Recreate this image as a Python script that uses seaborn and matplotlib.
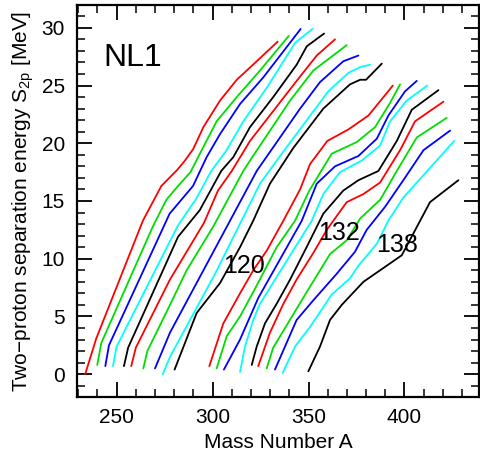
import pandas as pd
import matplotlib.pyplot as plt
import seaborn as sns
from matplotlib.ticker import MultipleLocator

sns.set_style('ticks')
plt.rcParams['font.family'] = ['Liberation Sans', 'DejaVu Sans']
plt.rcParams['mathtext.fontset'] = 'custom'
plt.rcParams['mathtext.rm'] = 'Liberation Sans'
plt.rcParams['mathtext.it'] = 'Liberation Sans:italic'
for key in ['text.color', 'axes.labelcolor', 'xtick.color', 'ytick.color', 'axes.edgecolor']:
    plt.rcParams[key] = 'black'

# ---- isotone chains (A, S2p in MeV) ----
# first block
A_01 = [233.6, 239.4, 263.7, 273.3, 281.6, 285.6, 289.9, 295.2, 303.9, 312.6, 323.0, 333.9]
S_01 = [0.0, 3.1, 13.3, 16.3, 17.7, 18.5, 19.5, 21.4, 23.7, 25.5, 27.1, 28.8]
A_02 = [239.9, 242.0, 268.9, 275.9, 282.0, 288.5, 293.4, 302.1, 312.6, 324.7, 339.7]
S_02 = [0.8, 2.7, 12.8, 15.1, 16.3, 17.5, 19.1, 21.9, 24.0, 26.3, 29.3]
A_03 = [244.1, 246.0, 277.6, 289.8, 296.9, 303.9, 314.3, 326.4, 345.9]
S_03 = [0.7, 2.5, 13.9, 16.3, 18.8, 20.8, 23.4, 25.7, 29.9]
A_04 = [248.1, 250.0, 282.0, 291.5, 299.3, 307.3, 316.0, 328.2, 343.0, 352.0]
S_04 = [0.7, 2.4, 12.9, 15.2, 17.6, 19.4, 21.9, 24.8, 28.7, 29.9]
A_05 = [253.8, 256.0, 282.0, 293.3, 304.5, 310.8, 319.5, 331.6, 343.8, 349.1, 358.1]
S_05 = [0.7, 2.3, 11.9, 14.2, 17.6, 18.8, 21.4, 24.0, 26.8, 28.4, 29.5]
A_06 = [257.6, 260.0, 277.8, 295.5, 302.8, 310.0, 319.5, 343.8, 354.3, 363.8]
S_06 = [0.7, 2.3, 8.2, 13.1, 15.9, 17.6, 20.2, 25.4, 27.6, 29.0]
A_07 = [263.9, 266.0, 277.8, 286.5, 300.4, 316.0, 319.5, 340.4, 352.5, 369.9]
S_07 = [0.5, 2.0, 6.0, 9.0, 12.8, 17.6, 18.5, 23.7, 26.3, 28.5]
A_08 = [270.0, 277.8, 300.4, 323.0, 345.6, 356.0, 368.1, 376.0]
S_08 = [0.5, 3.6, 10.6, 17.6, 23.0, 25.3, 27.1, 27.6]
A_09 = [274.0, 277.8, 301.3, 324.7, 333.4, 348.2, 360.3, 370.8, 376.9, 382.1]
S_09 = [0.0, 1.5, 8.7, 16.5, 18.5, 21.8, 24.5, 26.1, 26.6, 26.8]
A_10 = [280.2, 291.7, 303.9, 314.3, 321.2, 329.9, 342.1, 357.7, 371.6, 376.9, 380.0, 388.2]
S_10 = [0.4, 5.3, 7.9, 11.0, 13.3, 16.5, 19.6, 23.0, 25.1, 25.5, 25.5, 26.9]
# second block
A_11 = [298.3, 305.6, 314.3, 321.2, 328.2, 336.9, 345.6, 350.8, 359.8, 370.8, 381.2, 392.5, 393.9]
S_11 = [0.7, 4.4, 7.0, 9.0, 10.7, 13.3, 16.0, 18.2, 20.2, 21.2, 22.4, 24.7, 25.0]
A_12 = [302.1, 307.4, 314.3, 322.1, 333.4, 343.0, 350.4, 362.1, 375.1, 384.7, 392.5, 397.7]
S_12 = [0.5, 3.3, 5.0, 7.4, 11.0, 13.3, 15.9, 19.1, 20.1, 21.4, 23.5, 25.1]
A_13 = [305.9, 314.3, 323.8, 346.5, 354.3, 363.8, 376.0, 385.6, 391.6, 400.3, 406.4]
S_13 = [0.4, 3.0, 6.6, 13.3, 16.5, 18.0, 18.9, 20.4, 22.4, 24.5, 25.4]
A_14 = [314.3, 316.9, 321.2, 324.7, 351.7, 357.7, 366.4, 377.7, 387.3, 392.5, 401.2, 411.9]
S_14 = [0.2, 2.4, 4.7, 6.1, 13.3, 15.6, 17.5, 18.5, 19.8, 21.9, 23.7, 25.0]
A_15 = [320.4, 323.0, 327.3, 333.4, 340.4, 349.0, 357.7, 368.1, 376.0, 386.4, 396.0, 403.8, 417.7]
S_15 = [0.8, 2.4, 4.4, 6.1, 8.2, 11.0, 13.9, 15.9, 16.8, 17.6, 20.2, 22.9, 24.6]
A_16 = [323.8, 329.9, 336.9, 343.8, 352.5, 359.5, 369.9, 378.6, 387.3, 397.7, 405.5, 420.3]
S_16 = [0.7, 3.6, 6.1, 8.2, 10.5, 12.5, 14.9, 15.6, 16.6, 19.4, 21.9, 23.6]
A_17 = [328.2, 331.6, 349.0, 361.2, 369.9, 377.0, 387.3, 396.0, 406.4, 422.0]
S_17 = [0.5, 2.3, 7.1, 10.4, 11.6, 13.5, 15.1, 17.6, 20.5, 22.2]
A_18 = [332.5, 343.8, 352.5, 364.7, 374.2, 380.3, 389.9, 399.4, 409.9, 423.8]
S_18 = [0.4, 4.7, 6.4, 8.7, 10.6, 12.5, 14.5, 16.8, 19.4, 21.1]
A_19 = [336.5, 343.0, 350.8, 362.1, 371.6, 376.0, 385.6, 391.6, 399.4, 415.1, 425.9]
S_19 = [0.1, 2.4, 4.1, 6.9, 8.3, 9.4, 11.3, 13.3, 15.3, 18.2, 20.2]
# last chain
A_20 = [349.9, 356.0, 361.2, 367.3, 378.6, 387.3, 398.6, 413.3, 428.1]
S_20 = [0.25, 2.4, 4.7, 6.0, 8.0, 9.0, 10.3, 14.9, 16.8]

color_cycle = ['#ff0000', '#00dd00', '#0000ff', '#00ffff', '#000000']

chains_A = [A_01, A_02, A_03, A_04, A_05, A_06, A_07, A_08, A_09, A_10,
            A_11, A_12, A_13, A_14, A_15, A_16, A_17, A_18, A_19, A_20]
chains_S = [S_01, S_02, S_03, S_04, S_05, S_06, S_07, S_08, S_09, S_10,
            S_11, S_12, S_13, S_14, S_15, S_16, S_17, S_18, S_19, S_20]

frames = []
for i, (a, s) in enumerate(zip(chains_A, chains_S)):
    frames.append(pd.DataFrame({'A': a, 'S2p': s, 'chain': i}))
df = pd.concat(frames, ignore_index=True)
palette = {i: color_cycle[i % 5] for i in range(len(chains_A))}

fig = plt.figure(figsize=(4.81, 4.61), dpi=100)
ax = fig.add_axes([0.1607, 0.1382, 0.8358, 0.8516])
sns.lineplot(data=df, x='A', y='S2p', hue='chain', palette=palette,
             estimator=None, sort=False, legend=False, linewidth=1.3, ax=ax)

ax.set_xlim(229.5, 439)
ax.set_ylim(-2, 32)
ax.xaxis.set_major_locator(MultipleLocator(50))
ax.xaxis.set_minor_locator(MultipleLocator(10))
ax.yaxis.set_major_locator(MultipleLocator(5))
ax.yaxis.set_minor_locator(MultipleLocator(1))
ax.tick_params(which='both', direction='in', top=True, right=True,
               color='black', labelsize=15, labelcolor='black')
ax.tick_params(which='major', length=10.5, width=1.3)
ax.tick_params(which='minor', length=6, width=1.1)
ax.tick_params(axis='x', pad=8)
ax.tick_params(axis='y', pad=9)
for sp in ax.spines.values():
    sp.set_linewidth(1.6)
    sp.set_color('black')

ax.set_xlabel('Mass Number A', fontsize=15, color='black')
ax.set_ylabel('Two\u2212proton separation energy S$_{\\mathrm{2p}}$ [MeV]',
              fontsize=15, color='black')

ax.text(258.2, 27.4, 'NL1', fontsize=23, ha='center', va='center')
ax.text(316.4, 9.4, '120', fontsize=18, ha='center', va='center')
ax.text(365.9, 12.2, '132', fontsize=18, ha='center', va='center')
ax.text(396.1, 11.2, '138', fontsize=18, ha='center', va='center')

plt.savefig('out.png', dpi=100)
